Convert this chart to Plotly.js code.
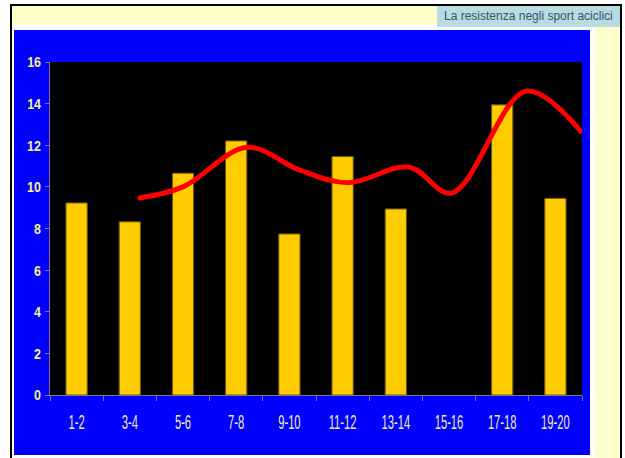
<!DOCTYPE html>
<html>
<head>
<meta charset="utf-8">
<script src="https://cdn.plot.ly/plotly-3.0.1.min.js"></script>
<style>html,body{margin:0;padding:0;background:#fff;}#chart{width:625px;height:458px;}</style>
</head>
<body>
<div id="chart"></div>
<script>
// Data
const categories = ["1-2","3-4","5-6","7-8","9-10","11-12","13-14","15-16","17-18","19-20"];
const barValues = [9.23, 8.32, 10.66, 12.21, 7.74, 11.46, 8.94, null, 13.94, 9.45];
// Trend curve (x in category index units, 0 = "1-2")
const lineX = [1.15, 2.0, 3.2, 4.2, 5.1, 6.25, 7.05, 8.45, 9.5];
const lineY = [9.45, 10.0, 11.9, 10.8, 10.2, 10.95, 9.7, 14.6, 12.6];
const titleText = "La resistenza negli sport aciclici";

const W = 625, H = 458;
const L = 50, R = 582, T = 62, B = 395;
const px = v => (v - L) / (R - L);
const py = v => (B - v) / (B - T);
function rect(x0, y0, x1, y1, color) {
  return {type: 'rect', xref: 'paper', yref: 'paper', layer: 'below',
    x0: px(x0), x1: px(x1), y0: py(y1), y1: py(y0),
    fillcolor: color, line: {width: 0}};
}

const sans = 'Liberation Sans, Arial, sans-serif';
const axisCol = '#8a7090';

const traces = [
  {
    type: 'bar', x: categories, y: barValues,
    marker: {color: '#FFCC00', line: {color: '#6b5500', width: 1}},
    hoverinfo: 'x+y'
  },
  {
    type: 'scatter', mode: 'lines', x: lineX, y: lineY,
    xaxis: 'x2', yaxis: 'y',
    line: {color: '#FF0000', width: 5, shape: 'spline', smoothing: 1.0},
    cliponaxis: true
  }
];

const layout = {
  width: W, height: H,
  margin: {l: L, r: W - R, t: T, b: H - B, pad: 0},
  paper_bgcolor: '#FFFFFF',
  plot_bgcolor: 'rgba(0,0,0,0)',
  showlegend: false,
  bargap: 0.6,
  xaxis: {
    type: 'category', range: [-0.5, 9.5], fixedrange: true,
    tickson: 'boundaries', ticks: 'outside', ticklen: 5, tickcolor: axisCol,
    showline: true, linecolor: axisCol, linewidth: 1, showgrid: false,
    tickangle: 0,
    tickfont: {family: sans, size: 20, color: '#F2EDB8'},
    ticklabelstandoff: 9
  },
  xaxis2: {
    overlaying: 'x', range: [-0.5, 9.5], visible: false, fixedrange: true
  },
  yaxis: {
    range: [0, 16], dtick: 2, fixedrange: true,
    ticks: 'outside', ticklen: 4, tickcolor: axisCol,
    showline: true, linecolor: axisCol, linewidth: 1, showgrid: false, zeroline: false,
    tickfont: {family: sans, size: 15.5, color: '#F5F08A', weight: 'bold'},
    ticklabelstandoff: 1
  },
  shapes: [
    rect(10, 4, 622, 470, '#000000'),
    rect(12, 6, 620, 470, '#FFFFCC'),
    rect(12, 24, 595, 470, '#FFFFFF'),
    rect(14, 30, 590, 455, '#0000FF'),
    rect(L, T, R, B, '#000000'),
    rect(437, 6, 620, 27, '#B7DCE2')
  ],
  annotations: [{
    xref: 'paper', yref: 'paper',
    x: px(528.5), y: py(16.5), xanchor: 'center', yanchor: 'middle',
    text: titleText, showarrow: false,
    font: {family: sans, size: 12, color: '#3d5068'}
  }]
};

// Squeeze tick labels horizontally to mimic the condensed face of the original
function squeeze(selector, sx, anchor) {
  document.querySelectorAll(selector).forEach(t => {
    const bb = t.getBBox();
    const cx = anchor === 'end' ? bb.x + bb.width : bb.x + bb.width / 2;
    const cy = bb.y + bb.height / 2;
    const prev = t.getAttribute('transform') || '';
    t.setAttribute('transform', prev + ` translate(${cx},${cy}) scale(${sx},1) translate(${-cx},${-cy})`);
  });
}

Plotly.newPlot('chart', traces, layout, {displayModeBar: false, staticPlot: true}).then(() => {
  squeeze('.xaxislayer-above .xtick text', 0.56, 'middle');
  squeeze('.yaxislayer-above .ytick text', 0.8, 'end');
});
</script>
</body>
</html>
